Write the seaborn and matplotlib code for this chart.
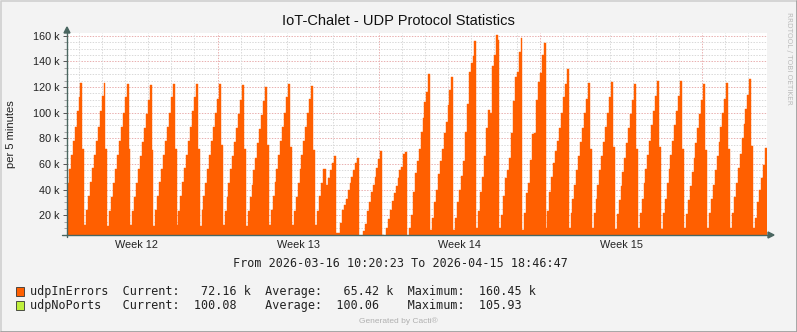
import numpy as np
import pandas as pd
import matplotlib
matplotlib.use("Agg")
import matplotlib.pyplot as plt
import seaborn as sns
from matplotlib.patches import Rectangle, Polygon
from matplotlib.lines import Line2D

# ---------------- data ----------------
TITLE = "IoT-Chalet - UDP Protocol Statistics"
Y_LABEL = "per 5 minutes"
RANGE_TEXT = "From 2026-03-16 10:20:23 To 2026-04-15 18:46:47"
WATERMARK = "RRDTOOL / TOBI OETIKER"
FOOTER = "Generated by Cacti\u00ae"

STEP_HOURS = 2.0          # consolidation step of the plotted RRA
SPAN_HOURS = 728.44       # 2026-03-16 10:20:23 -> 2026-04-15 18:46:47
FIRST_DAY_LINE = 12.66    # hours from start to first day boundary
WEEK_LINE_DAYS = [6, 13, 20, 27]   # day boundaries that start a week
week_labels = ["Week 12", "Week 13", "Week 14", "Week 15"]

y_major_k = [20, 40, 60, 80, 100, 120, 140, 160]
y_min_k, y_max_k = 4.64, 162.1

# udpInErrors, in thousands, one value per 2 hour step
first_tooth_k = [45, 56, 67, 78, 89, 101, 112, 123, 72]
daily_teeth_k = [
    [12.5, 24, 35, 46, 57, 67, 78, 89, 101, 113, 123, 72],
    [12, 23, 34, 45, 56, 67, 78, 89, 100, 112, 122.6, 72],
    [12.5, 23, 34, 45, 56, 66, 77, 88, 99, 110, 121.5, 71],
    [12, 24, 35, 46, 56, 67, 78, 89, 100, 112, 122.6, 72],
    [12.5, 23, 35, 46, 57, 67, 78, 89, 101, 112, 122.6, 72],
    [12, 24, 35, 45, 56, 67, 78, 89, 100, 111, 122.6, 75],
    [12.5, 23, 34, 45, 56, 66, 77, 88, 99, 110, 121.5, 72],
    [12, 23, 34, 44, 55, 65, 76, 87, 98, 109, 120, 75],
    [12.5, 24, 35, 46, 56, 67, 78, 89, 100, 112, 122.6, 73],
    [12.5, 23, 34, 45, 56, 67, 78, 89, 100, 111, 121, 71],
    [12.5, 23, 35, 45, 56, 56, 44, 49, 55, 61, 66, 6],
    [6, 14, 24, 28, 33, 40, 45, 50, 55, 61, 65, 2],
    [2, 8, 13, 23, 30, 38, 44, 50, 57, 64, 70, 5],
    [4, 10, 17, 24, 31, 37, 43, 49, 55, 58, 68, 69],
    [3, 10, 20, 38, 53, 62, 72, 85, 96, 108, 116, 130],
    [8.6, 18, 30, 40, 52, 62, 72, 84, 93, 106, 118, 128],
    [8.6, 18, 30, 40, 51, 62, 85, 107, 132, 139, 144, 156],
    [10, 23, 38, 50, 66, 88, 102, 100, 136, 145, 160.45, 157],
    [10, 20, 35, 49, 55, 65, 84, 109, 128, 132, 147, 158],
    [8.6, 22, 37, 45, 63, 83, 84, 110, 124, 131, 145, 154],
    [10, 23, 38, 50, 61, 70, 78, 88, 100, 112, 122, 134],
    [10, 22, 33, 44, 55, 66, 77, 88, 100, 111, 123, 72],
    [10, 22, 33, 44, 55, 66, 77, 89, 100, 112, 123.6, 73],
    [9, 21, 32, 43, 54, 65, 76, 88, 99, 110, 122, 72],
    [10, 22, 33, 45, 56, 67, 78, 90, 101, 113, 124.5, 73],
    [9, 22, 33, 45, 56, 67, 78, 90, 101, 113, 124.5, 72],
    [10, 21, 32, 43, 54, 65, 76, 88, 99, 110, 122, 71],
    [10, 22, 33, 44, 55, 66, 77, 89, 100, 111, 123, 72],
    [10, 22, 34, 45, 57, 68, 80, 91, 103, 114, 126, 74],
]
last_tooth_k = [10, 18, 30, 40, 49, 59, 72.16]

legend_names = ["udpInErrors", "udpNoPorts"]
legend_current = [72.16, 100.08]
legend_average = [65.42, 100.06]
legend_maximum = [160.45, 105.93]
legend_units = ["k", ""]
legend_colors = ["#FF5F00", "#BFF03C"]

# ---------------- build series ----------------
values_k = list(first_tooth_k)
for tooth in daily_teeth_k:
    values_k.extend(tooth)
values_k.extend(last_tooth_k)
values = np.array(values_k) * 1000.0
hours = np.arange(len(values)) * STEP_HOURS
edge_hours = np.append(hours, hours[-1] + STEP_HOURS)
edge_values = np.append(values, values[-1])
df = pd.DataFrame({"hours": edge_hours, "udpInErrors": edge_values})

# ---------------- figure ----------------
W, H = 797, 332
sns.set_theme(style="white")
plt.rcParams["font.family"] = ["Liberation Sans", "DejaVu Sans"]

fig = plt.figure(figsize=(W / 100, H / 100), dpi=100)
fig.patch.set_facecolor("#F3F3F3")


def fx(x):
    return x / W


def fy(y):
    return 1 - y / H


ax = fig.add_axes([fx(67), fy(235), 700 / W, 202 / H])
ax.set_facecolor("white")
for s in ax.spines.values():
    s.set_visible(False)

ax.set_xlim(0, SPAN_HOURS)
ax.set_ylim(y_min_k * 1000, y_max_k * 1000)

# grid
minor_col = "#D9D9D9"
major_col = "#E9B0B0"
dash = (0, (1.4, 1.4))
for yk in range(5, 161, 5):
    col = major_col if yk % 20 == 0 else minor_col
    ax.axhline(yk * 1000, color=col, lw=0.72, ls=dash, zorder=0.5)
day_lines = []
d = FIRST_DAY_LINE
while d < SPAN_HOURS:
    day_lines.append(d)
    d += 24
week_lines = [day_lines[i] for i in WEEK_LINE_DAYS]
for i, dl in enumerate(day_lines):
    col = major_col if i in WEEK_LINE_DAYS else minor_col
    ax.axvline(dl, color=col, lw=0.72, ls=dash, zorder=0.5)

# data: step area (matplotlib stairs) with seaborn step outline
ax.stairs(values, edge_hours, baseline=0, fill=True,
          color=legend_colors[0], lw=0, zorder=2)
sns.lineplot(data=df, x="hours", y="udpInErrors", drawstyle="steps-post",
             color=legend_colors[0], lw=0.3, ax=ax, legend=False, zorder=3)

# ticks
week_mids = [w - 84 for w in week_lines]
ax.set_xticks(week_mids)
ax.set_xticklabels(week_labels)
ax.set_xticks(day_lines, minor=True)
ax.set_yticks([v * 1000 for v in y_major_k])
ax.set_yticklabels([f"{v} k" for v in y_major_k])
ax.set_yticks([v * 1000 for v in range(5, 161, 5)], minor=True)
ax.tick_params(axis="x", which="major", length=0, pad=3.5, labelsize=7.8,
               colors="#222222")
ax.tick_params(axis="x", which="minor", length=2.5, width=0.7,
               color="#999999", direction="out")
ax.tick_params(axis="y", which="major", length=3, width=0.7, pad=2.5,
               labelsize=7.8, color="#555555", labelcolor="#222222",
               direction="out", left=True)
ax.tick_params(axis="y", which="minor", length=2, width=0.6,
               color="#999999", direction="out", left=True)
ax.set_xlabel("")
ax.set_ylabel("")

# axes with arrows
axis_col = "#4A6660"
fig.add_artist(Line2D([fx(67), fx(67)], [fy(237), fy(32)], color=axis_col,
                      lw=1.0, transform=fig.transFigure))
fig.add_artist(Polygon([(fx(64), fy(33)), (fx(70), fy(33)), (fx(67), fy(27))],
                       closed=True, color=axis_col,
                       transform=fig.transFigure))
fig.add_artist(Line2D([fx(62), fx(769)], [fy(235), fy(235)], color=axis_col,
                      lw=1.0, transform=fig.transFigure))
fig.add_artist(Polygon([(fx(768), fy(232)), (fx(768), fy(238)),
                        (fx(774), fy(235))], closed=True, color=axis_col,
                       transform=fig.transFigure))

# texts
fig.text(fx(398), fy(21), TITLE, ha="center", va="center", fontsize=10.5,
         color="#111111")
fig.text(fx(11), fy(134), Y_LABEL, ha="center", va="center", rotation=90,
         fontsize=8, color="#222222")
fig.text(fx(789), fy(12), WATERMARK, ha="center", va="top", rotation=270,
         fontsize=5.2, color="#BBBBBB", family=["DejaVu Sans"])
fig.text(fx(400), fy(263.5), RANGE_TEXT, ha="center", va="center",
         fontsize=8.5, family=["DejaVu Sans Mono"], color="#222222")

rows_y = [291.5, 305.5]
for name, cur, avg, mx, unit, col, yy in zip(legend_names, legend_current,
                                               legend_average, legend_maximum,
                                               legend_units, legend_colors,
                                               rows_y):
    line = (f"{name:<11}  Current:{cur:8.2f} {unit:1}  "
            f"Average:{avg:8.2f} {unit:1}  Maximum:{mx:8.2f} {unit:1}")
    fig.add_artist(Rectangle((fx(15.5), fy(yy + 4.5)), 8 / W, 9 / H,
                             transform=fig.transFigure, facecolor=col,
                             edgecolor="#333333", lw=0.6))
    fig.text(fx(30), fy(yy), line, ha="left", va="center", fontsize=8.5,
             family=["DejaVu Sans Mono"], color="#222222")

fig.text(fx(398), fy(321), FOOTER, ha="center", va="center", fontsize=6,
         color="#B0B0B0")

# canvas border
fig.add_artist(Line2D([fx(0.5), fx(0.5), fx(796.5)],
                      [fy(331.5), fy(0.5), fy(0.5)], color="#CFCFCF", lw=1.2,
                      transform=fig.transFigure))
fig.add_artist(Line2D([fx(0.5), fx(796.5), fx(796.5)],
                      [fy(331.5), fy(331.5), fy(0.5)], color="#9A9A9A",
                      lw=1.2, transform=fig.transFigure))

fig.savefig("out.png", dpi=100, facecolor=fig.get_facecolor())
